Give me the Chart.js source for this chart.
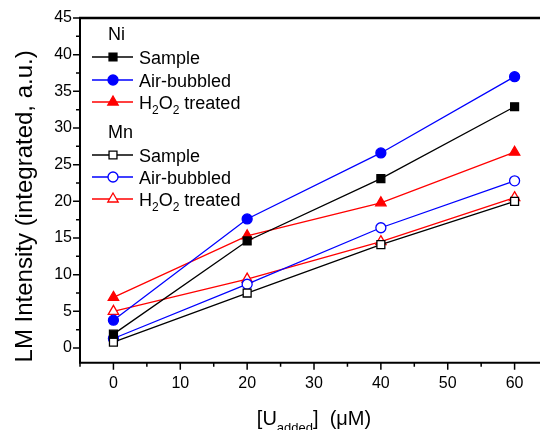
<!DOCTYPE html>
<html>
<head>
<meta charset="utf-8">
<script src="https://cdn.jsdelivr.net/npm/chart.js@4/dist/chart.umd.min.js"></script>
<style>
  html, body { margin: 0; padding: 0; background: #fff; }
  #wrap { width: 540px; height: 430px; position: relative; }
</style>
</head>
<body>
<div id="wrap"><canvas id="lmChart"></canvas></div>
<script>
// U added (uM)
const doses = [0, 20, 40, 60];

// LM intensity, Ni series (filled markers)
const niSample = [1.9, 14.6, 23.1, 32.9];
const niAir = [3.8, 17.6, 26.6, 37.0];
const niH2O2 = [6.9, 15.3, 19.8, 26.7];

// LM intensity, Mn series (open markers)
const mnSample = [0.8, 7.5, 14.1, 20.0];
const mnAir = [1.3, 8.7, 16.4, 22.8];
const mnH2O2 = [5.0, 9.4, 14.5, 20.5];

const seriesLabels = ["Sample", "Air-bubbled", "H_2O_2 treated"];
const groupLabels = ["Ni", "Mn"];
const xTicks = [0, 10, 20, 30, 40, 50, 60];
const yTicks = [0, 5, 10, 15, 20, 25, 30, 35, 40, 45];

const FONT = "'Liberation Sans', Arial, sans-serif";
const colors = ["#000000", "#0000ff", "#ff0000"];
const styles = ["rect", "circle", "triangle"];
const radii = [5.6, 5, 6];

function makeSet(values, i, open) {
    return {
        label: seriesLabels[i],
        data: doses.map((d, k) => ({ x: d, y: values[k] })),
        borderColor: colors[i],
        borderWidth: 1.3,
        pointStyle: styles[i],
        pointRadius: radii[i],
        pointHoverRadius: radii[i],
        pointBorderWidth: 1.3,
        pointBorderColor: colors[i],
        pointBackgroundColor: open ? "#ffffff" : colors[i]
    };
}

const datasets = [
    makeSet(niSample, 0, false),
    makeSet(niAir, 1, false),
    makeSet(niH2O2, 2, false),
    makeSet(mnSample, 0, true),
    makeSet(mnAir, 1, true),
    makeSet(mnH2O2, 2, true)
];

// text with "_X" or "_{xyz}" subscripts
function drawRich(ctx, text, x, y, size, subSize, subDrop, align) {
    const parts = [];
    const re = /_\{([^}]*)\}|_(.)/g;
    let last = 0, m;
    while ((m = re.exec(text))) {
        if (m.index > last) parts.push({ t: text.slice(last, m.index), sub: false });
        parts.push({ t: m[1] !== undefined ? m[1] : m[2], sub: true });
        last = re.lastIndex;
    }
    if (last < text.length) parts.push({ t: text.slice(last), sub: false });
    let total = 0;
    parts.forEach(p => {
        ctx.font = (p.sub ? subSize : size) + "px " + FONT;
        p.w = ctx.measureText(p.t).width;
        total += p.w;
    });
    let cx = align === "center" ? x - total / 2 : x;
    ctx.textAlign = "left";
    ctx.textBaseline = "alphabetic";
    parts.forEach(p => {
        ctx.font = (p.sub ? subSize : size) + "px " + FONT;
        ctx.fillText(p.t, cx, p.sub ? y + subDrop : y);
        cx += p.w;
    });
}

function drawMarker(ctx, style, r, x, y, fill, stroke) {
    ctx.beginPath();
    if (style === "rect") {
        const s = Math.SQRT1_2 * r;
        ctx.rect(x - s, y - s, 2 * s, 2 * s);
    } else if (style === "circle") {
        ctx.arc(x, y, r, 0, Math.PI * 2);
    } else {
        ctx.moveTo(x, y - r);
        ctx.lineTo(x + r * Math.sin(Math.PI * 2 / 3), y + r / 2);
        ctx.lineTo(x - r * Math.sin(Math.PI * 2 / 3), y + r / 2);
        ctx.closePath();
    }
    ctx.fillStyle = fill;
    ctx.fill();
    ctx.lineWidth = 1.3;
    ctx.strokeStyle = stroke;
    ctx.stroke();
}

const framePlugin = {
    id: "frame",
    afterDraw(chart) {
        const { ctx, chartArea: a, scales: { x, y } } = chart;
        ctx.save();
        ctx.strokeStyle = "#000";
        ctx.fillStyle = "#000";

        // axes and top border
        ctx.lineWidth = 2;
        ctx.beginPath();
        ctx.moveTo(a.left, a.top);
        ctx.lineTo(a.left, a.bottom);
        ctx.lineTo(a.right, a.bottom);
        ctx.stroke();
        ctx.lineWidth = 2.5;
        ctx.beginPath();
        ctx.moveTo(a.left - 1, a.top);
        ctx.lineTo(a.right, a.top);
        ctx.stroke();

        // ticks, major and minor, pointing out
        ctx.lineWidth = 1.5;
        ctx.beginPath();
        for (let v = -5; v <= 65; v += 5) {
            const px = x.getPixelForValue(v);
            if (px < a.left - 1 || px > a.right) continue;
            const len = v % 10 === 0 ? 7 : 4;
            ctx.moveTo(px, a.bottom);
            ctx.lineTo(px, a.bottom + len);
        }
        for (let v = -2.5; v <= 45; v += 2.5) {
            const py = y.getPixelForValue(v);
            if (py > a.bottom + 1 || py < a.top - 1) continue;
            const len = v % 5 === 0 ? 7 : 4;
            ctx.moveTo(a.left, py);
            ctx.lineTo(a.left - len, py);
        }
        ctx.stroke();

        // axis titles
        drawRich(ctx, "[U_{added}]  (\u03bcM)", x.getPixelForValue(30), 425, 20, 13, 7, "center");
        ctx.save();
        ctx.translate(32, (a.top + a.bottom) / 2 + 16);
        ctx.rotate(-Math.PI / 2);
        drawRich(ctx, "LM Intensity (integrated, a.u.)", 0, 0, 24, 16, 5, "center");
        ctx.restore();

        // legend
        const lx0 = 92, lx1 = 133, mx = 113, tx = 139;
        const rowY = [34, 57, 80, 102, 132, 155, 177, 199];
        let row = 0;
        groupLabels.forEach((g, gi) => {
            ctx.fillStyle = "#000";
            drawRich(ctx, g, 108, rowY[row] + 6, 18, 12, 5, "left");
            row++;
            for (let i = 0; i < 3; i++) {
                const ds = datasets[gi * 3 + i];
                const yy = rowY[row];
                ctx.strokeStyle = ds.borderColor;
                ctx.lineWidth = 1.3;
                ctx.beginPath();
                ctx.moveTo(lx0, yy);
                ctx.lineTo(lx1, yy);
                ctx.stroke();
                drawMarker(ctx, ds.pointStyle, ds.pointRadius, mx, yy,
                    ds.pointBackgroundColor, ds.pointBorderColor);
                ctx.fillStyle = "#000";
                drawRich(ctx, ds.label, tx, yy + 6.5, 18, 12, 5, "left");
                row++;
            }
        });
        ctx.restore();
    }
};

new Chart(document.getElementById("lmChart"), {
    type: "line",
    data: { datasets: datasets },
    options: {
        responsive: true,
        maintainAspectRatio: false,
        animation: false,
        events: [],
        layout: { autoPadding: false, padding: { top: 18, right: 0, left: 0, bottom: 0 } },
        plugins: {
            legend: { display: false },
            tooltip: { enabled: false }
        },
        scales: {
            x: {
                type: "linear",
                min: -5,
                max: 63.8,
                afterBuildTicks: s => { s.ticks = xTicks.map(v => ({ value: v })); },
                afterFit: s => { s.height = 67.3; },
                grid: { display: false, drawTicks: false, tickLength: 0 },
                border: { display: false },
                ticks: {
                    color: "#000",
                    font: { family: FONT, size: 16 },
                    padding: 11,
                    maxRotation: 0
                }
            },
            y: {
                min: -2,
                max: 45,
                afterBuildTicks: s => { s.ticks = yTicks.map(v => ({ value: v })); },
                afterFit: s => { s.width = 80; },
                grid: { display: false, drawTicks: false, tickLength: 0 },
                border: { display: false },
                ticks: {
                    color: "#000",
                    font: { family: FONT, size: 16 },
                    padding: 8
                }
            }
        }
    },
    plugins: [framePlugin]
});
</script>
</body>
</html>
